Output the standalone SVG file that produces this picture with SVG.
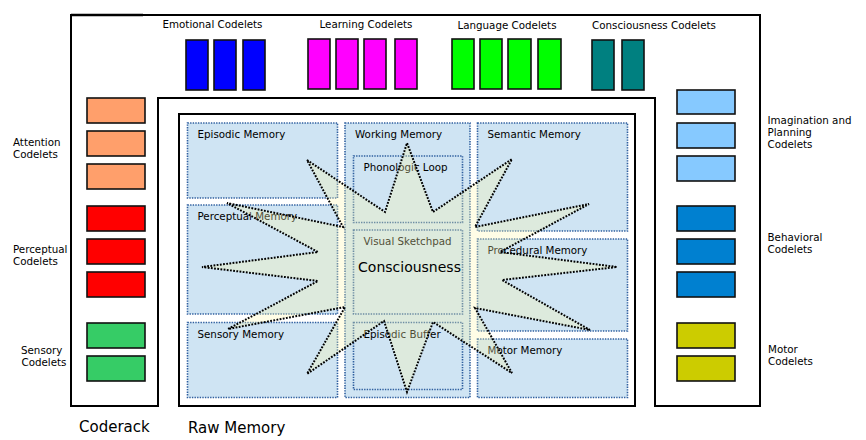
<svg xmlns="http://www.w3.org/2000/svg" width="866" height="440" viewBox="0 0 866 440">
<style>
text{font-family:"DejaVu Sans","Liberation Sans",sans-serif;fill:#000}
.lbl{font-size:10.3px}
.big{font-size:15px}
.cd{stroke:#111;stroke-width:1.6}
.mem{fill:#cfe4f3;stroke:#2f5f9f;stroke-width:1.6;stroke-dasharray:1.4 1.2}
.sub{fill:none;stroke:#2f5f9f;stroke-width:1.6;stroke-dasharray:1.4 1.2}
.frame{fill:none;stroke:#000;stroke-width:2}
</style>
<rect width="866" height="440" fill="#fff"/>
<g id="coderack">
<path class="frame" d="M71,15 H760 V406 H655 V98 H158 V406 H71 Z"/>
<path d="M71,15 H143" stroke="#000" stroke-width="2.6" fill="none"/>
<text class="big" x="79" y="432">Coderack</text>
</g>
<g id="emotional-codelets">
<text class="lbl" x="212.5" y="28" text-anchor="middle">Emotional Codelets</text>
<rect class="cd" x="186" y="40" width="22" height="50" fill="#0000ff"/>
<rect class="cd" x="214" y="40" width="22" height="50" fill="#0000ff"/>
<rect class="cd" x="243" y="40" width="22" height="50" fill="#0000ff"/>
</g>
<g id="learning-codelets">
<text class="lbl" x="366" y="28" text-anchor="middle">Learning Codelets</text>
<rect class="cd" x="308" y="39" width="22" height="50" fill="#ff00ff"/>
<rect class="cd" x="336" y="39" width="22" height="50" fill="#ff00ff"/>
<rect class="cd" x="364" y="39" width="22" height="50" fill="#ff00ff"/>
<rect class="cd" x="395" y="39" width="22" height="50" fill="#ff00ff"/>
</g>
<g id="language-codelets">
<text class="lbl" x="507" y="29" text-anchor="middle">Language Codelets</text>
<rect class="cd" x="452" y="39" width="22" height="50" fill="#00ff00"/>
<rect class="cd" x="480" y="39" width="22" height="50" fill="#00ff00"/>
<rect class="cd" x="508" y="39" width="23" height="50" fill="#00ff00"/>
<rect class="cd" x="538" y="39" width="23" height="50" fill="#00ff00"/>
</g>
<g id="consciousness-codelets">
<text class="lbl" x="654" y="29" text-anchor="middle">Consciousness Codelets</text>
<rect class="cd" x="592" y="40" width="22" height="50" fill="#008080"/>
<rect class="cd" x="622" y="40" width="22" height="50" fill="#008080"/>
</g>
<g id="attention-codelets">
<text class="lbl" x="13" y="146">Attention</text>
<text class="lbl" x="13" y="158">Codelets</text>
<rect class="cd" x="87" y="98" width="58" height="25" fill="#ff9f6b"/>
<rect class="cd" x="87" y="131" width="58" height="25" fill="#ff9f6b"/>
<rect class="cd" x="87" y="164" width="58" height="25" fill="#ff9f6b"/>
</g>
<g id="perceptual-codelets">
<text class="lbl" x="13" y="253">Perceptual</text>
<text class="lbl" x="13" y="265">Codelets</text>
<rect class="cd" x="87" y="206" width="58" height="25" fill="#ff0000"/>
<rect class="cd" x="87" y="239" width="58" height="25" fill="#ff0000"/>
<rect class="cd" x="87" y="272" width="58" height="25" fill="#ff0000"/>
</g>
<g id="sensory-codelets">
<text class="lbl" x="21" y="354">Sensory</text>
<text class="lbl" x="21.5" y="366">Codelets</text>
<rect class="cd" x="87" y="323" width="58" height="25" fill="#36cc66"/>
<rect class="cd" x="87" y="356" width="58" height="25" fill="#36cc66"/>
</g>
<g id="imagination-codelets">
<text class="lbl" x="767.5" y="124">Imagination and</text>
<text class="lbl" x="767.5" y="136">Planning</text>
<text class="lbl" x="767.5" y="148">Codelets</text>
<rect class="cd" x="677" y="90" width="58" height="24" fill="#86c9ff"/>
<rect class="cd" x="677" y="123" width="58" height="25" fill="#86c9ff"/>
<rect class="cd" x="677" y="156" width="58" height="25" fill="#86c9ff"/>
</g>
<g id="behavioral-codelets">
<text class="lbl" x="767.5" y="241">Behavioral</text>
<text class="lbl" x="767.5" y="253">Codelets</text>
<rect class="cd" x="677" y="206" width="58" height="25" fill="#0080d0"/>
<rect class="cd" x="677" y="239" width="58" height="25" fill="#0080d0"/>
<rect class="cd" x="677" y="272" width="58" height="25" fill="#0080d0"/>
</g>
<g id="motor-codelets">
<text class="lbl" x="768" y="353">Motor</text>
<text class="lbl" x="768" y="365">Codelets</text>
<rect class="cd" x="677" y="323" width="58" height="25" fill="#cccc00"/>
<rect class="cd" x="677" y="356" width="58" height="25" fill="#cccc00"/>
</g>
<g id="raw-memory">
<rect class="frame" x="179" y="114" width="456" height="292"/>
<text class="big" x="188" y="433">Raw Memory</text>
</g>
<g id="episodic-memory">
<rect class="mem" x="187.5" y="123" width="150" height="75"/>
<text class="lbl" x="197.5" y="138">Episodic Memory</text>
</g>
<g id="perceptual-memory">
<rect class="mem" x="187.5" y="205" width="150" height="109"/>
<text class="lbl" x="197.5" y="220">Perceptual Memory</text>
</g>
<g id="sensory-memory">
<rect class="mem" x="187.5" y="322.5" width="150" height="75"/>
<text class="lbl" x="197.5" y="337.5">Sensory Memory</text>
</g>
<g id="working-memory">
<rect class="mem" x="345" y="123" width="125" height="274.5"/>
<text class="lbl" x="355" y="138">Working Memory</text>
</g>
<g id="phonologic-loop">
<rect class="sub" x="353.5" y="156" width="109" height="66.5"/>
<text class="lbl" x="363.5" y="171">Phonologic Loop</text>
</g>
<g id="visual-sketchpad">
<rect class="sub" x="353.5" y="230" width="109" height="84"/>
<text class="lbl" x="363.5" y="245">Visual Sketchpad</text>
</g>
<g id="episodic-buffer">
<rect class="sub" x="353.5" y="322.5" width="109" height="67"/>
<text class="lbl" x="363.5" y="337.5">Episodic Buffer</text>
</g>
<g id="semantic-memory">
<rect class="mem" x="477.5" y="123" width="150" height="108"/>
<text class="lbl" x="487.5" y="138">Semantic Memory</text>
</g>
<g id="procedural-memory">
<rect class="mem" x="477.5" y="239" width="150" height="92"/>
<text class="lbl" x="487.5" y="254">Procedural Memory</text>
</g>
<g id="motor-memory">
<rect class="mem" x="477.5" y="339" width="150" height="58.5"/>
<text class="lbl" x="487.5" y="353.5">Motor Memory</text>
</g>
<g id="consciousness">
<polygon points="307,160 385,212 407,143 433,212 512,159 475,227 589,204 500,252 617,267 502,280 590,330 475,308 512,373 433,322 407,392 384,321 307,374 345,307 228,329 318,281 202,267 318,252 227,203 343,227" fill="#fff8ac" fill-opacity="0.3" stroke="#000" stroke-width="2" stroke-dasharray="1.8 1.4" stroke-linejoin="miter"/>
<text x="409.5" y="272" text-anchor="middle" style="font-size:14px">Consciousness</text>
</g>
<g id="connectors"/>
</svg>
